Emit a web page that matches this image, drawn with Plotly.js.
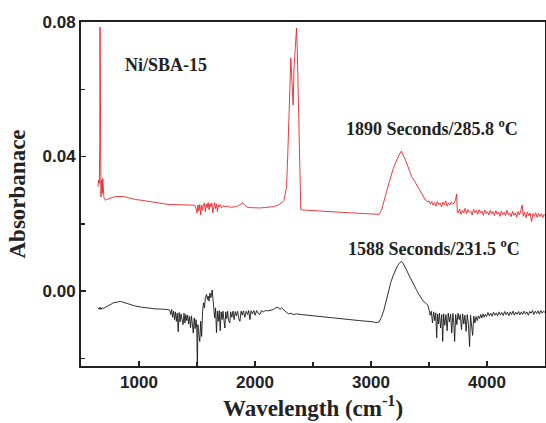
<!DOCTYPE html>
<html>
<head>
<meta charset="utf-8">
<script src="https://cdn.plot.ly/plotly-3.0.1.min.js"></script>
<style>html,body{margin:0;padding:0;background:#fff;}#chart{width:546px;height:423px;}</style>
</head>
<body>
<div id="chart"></div>
<script>
// Red spectrum: 1890 Seconds / 285.8 °C
const redX = [646,652,658,662,664,666,669,672,676,680,684,688,692,697,702,710,720,740,770,800,830,860,890,930,970,1020,1080,1140,1200,1260,1320,1380,1440,1470,
1480,1492,1500,1508,1516,1524,1532,1540,1548,1556,1564,1572,1580,1588,1596,1604,1612,1620,1628,1636,1644,1652,1660,1668,1676,1684,1692,1700,1712,1724,1740,1760,1780,1800,1830,1860,1880,1895,1910,1930,1960,2000,2040,2080,2120,2160,2200,2230,2250,2262,2272,2282,2292,2300,2309,2316,2322,2329,2336,2344,2352,2358,2364,2370,2378,2386,2395,2410,2450,2500,2600,2700,2800,2900,3000,3050,3070,3090,3110,3130,3150,3170,3190,3210,3230,3250,3262,3275,3290,3310,3330,3350,3370,3390,3410,3430,3450,3470,3490,
3500,3512,3524,3536,3548,3560,3572,3584,3596,3608,3620,3632,3644,3656,3668,3680,3692,3704,3716,3728,3738,3744,3752,3764,3776,3788,3800,3812,3824,3836,3848,3860,3872,3884,3896,3908,3920,3932,3944,3956,3968,3980,3992,4004,4016,4028,4040,4052,4064,4076,4088,4100,4112,4124,4136,4148,4160,4172,4184,4196,4208,4220,4232,4244,4256,4268,4280,4292,4304,4312,4324,4336,4348,4360,4372,4384,4396,4408,4420,4432,4444,4456,4468,4480,4492,4500];
const redY = [0.031,0.033,0.032,0.045,0.0785,0.060,0.030,0.028,0.033,0.031,0.029,0.0335,0.030,0.028,0.0275,0.027,0.0272,0.0275,0.0278,0.0281,0.0282,0.0281,0.0279,0.0275,0.0272,0.0270,0.0267,0.0264,0.0260,0.0257,0.0257,0.0256,0.0256,0.0255,
0.0255,0.0245,0.0232,0.0256,0.0238,0.0257,0.0226,0.0255,0.0240,0.0258,0.0262,0.0236,0.0259,0.0248,0.0263,0.0242,0.0260,0.0250,0.0262,0.0233,0.0258,0.0263,0.0245,0.0259,0.0236,0.0256,0.0250,0.0257,0.0248,0.0254,0.0251,0.0253,0.0250,0.0249,0.0251,0.0254,0.0259,0.0262,0.0256,0.0250,0.0248,0.0247,0.0247,0.0248,0.0249,0.0251,0.0256,0.0262,0.0270,0.0290,0.031,0.040,0.051,0.0657,0.0693,0.064,0.058,0.0553,0.066,0.072,0.0765,0.0782,0.072,0.0607,0.045,0.030,0.0242,0.0241,0.0240,0.0239,0.0237,0.0235,0.0233,0.0231,0.0229,0.0227,0.0228,0.0240,0.0262,0.0290,0.0315,0.0340,0.0362,0.0380,0.0398,0.0410,0.0416,0.0408,0.0395,0.0378,0.0358,0.0340,0.0330,0.0318,0.0305,0.0290,0.0280,0.0270,0.0265,
0.0268,0.0258,0.0266,0.0255,0.0263,0.0252,0.0266,0.0257,0.0262,0.0250,0.0264,0.0256,0.0268,0.0252,0.0262,0.0256,0.0265,0.0258,0.0262,0.0270,0.0288,0.0238,0.0232,0.0244,0.0228,0.0240,0.0232,0.0246,0.0230,0.0242,0.0234,0.0238,0.0226,0.0243,0.0233,0.0240,0.0228,0.0242,0.0232,0.0238,0.0225,0.0241,0.0230,0.0236,0.0226,0.0240,0.0229,0.0236,0.0224,0.0239,0.0228,0.0235,0.0222,0.0238,0.0227,0.0234,0.0224,0.0240,0.0226,0.0232,0.0221,0.0237,0.0225,0.0233,0.0220,0.0236,0.0226,0.0240,0.0256,0.0222,0.0234,0.0218,0.0235,0.0224,0.0232,0.0206,0.0230,0.0222,0.0233,0.0219,0.0231,0.0221,0.0230,0.0218,0.0228,0.0224];

// Black spectrum: 1588 Seconds / 231.5 °C
const blackX = [646,656,664,672,680,690,700,720,750,780,810,840,870,910,960,1020,1080,1140,1200,1250,
1266,1274,1282,1290,1298,1306,1314,1322,1330,1338,1346,1354,1362,1370,1380,1388,1396,1404,1412,1420,1428,1436,1444,1452,1460,1468,1476,1484,1492,1498,1503,1508,1516,1524,1532,1540,1548,1556,1564,1572,1582,1590,1596,1604,1611,1620,1631,1638,1645,1652,1660,1668,1676,1684,1692,1700,1708,1716,1724,1732,1740,1748,1756,1764,1772,1783,1790,1800,1810,1820,1830,1840,1850,1860,1870,1880,1890,1900,1912,1924,1936,1946,1956,1966,1978,1990,2002,2014,2026,2042,2056,2072,2090,2110,2130,2150,2170,2190,2205,2215,2230,2250,2270,2290,2310,2330,2360,2400,2500,2600,2700,2800,2900,3000,3050,3070,3090,3110,3130,3150,3170,3190,3210,3230,3250,3262,3275,3290,3310,3330,3350,3370,3390,3410,3430,3450,3470,3490,
3500,3510,3520,3530,3540,3550,3558,3566,3574,3582,3590,3600,3610,3618,3626,3636,3646,3656,3666,3676,3686,3696,3706,3714,3721,3730,3740,3750,3760,3770,3780,3790,3800,3810,3820,3830,3840,3850,3858,3866,3876,3886,3896,3906,3916,3926,3936,3946,3956,3966,3976,3986,3996,4008,4020,4032,4044,4056,4068,4080,4092,4104,4116,4128,4140,4152,4164,4176,4188,4200,4212,4224,4236,4248,4260,4272,4284,4296,4308,4320,4332,4344,4356,4368,4380,4392,4404,4416,4428,4440,4452,4464,4476,4488,4500];
const blackY = [-0.0050,-0.0054,-0.0048,-0.0055,-0.0050,-0.0052,-0.0050,-0.0047,-0.0041,-0.0035,-0.0032,-0.0031,-0.0034,-0.0039,-0.0044,-0.0048,-0.0051,-0.0053,-0.0054,-0.0055,
-0.0058,-0.0070,-0.0055,-0.0078,-0.0060,-0.0085,-0.0062,-0.0090,-0.0066,-0.0121,-0.0064,-0.0092,-0.0068,-0.0085,-0.0100,-0.0066,-0.0095,-0.0070,-0.0088,-0.0072,-0.0098,-0.0076,-0.0109,-0.0074,-0.0100,-0.0125,-0.0080,-0.0112,-0.0085,-0.0110,-0.0240,-0.0100,-0.0130,-0.0150,-0.0090,-0.0135,-0.0060,-0.0035,-0.0050,-0.0020,-0.0010,-0.0025,-0.0015,-0.0030,-0.0006,-0.0020,0.0003,-0.0030,-0.0064,-0.0080,-0.0050,-0.0124,-0.0060,-0.0090,-0.0058,-0.0118,-0.0062,-0.0085,-0.0060,-0.0095,-0.0110,-0.0062,-0.0082,-0.0060,-0.0088,-0.0095,-0.0062,-0.0078,-0.0060,-0.0085,-0.0061,-0.0074,-0.0060,-0.0082,-0.0090,-0.0060,-0.0072,-0.0059,-0.0078,-0.0060,-0.0070,-0.0058,-0.0085,-0.0059,-0.0068,-0.0058,-0.0072,-0.0058,-0.0066,-0.0070,-0.0058,-0.0062,-0.0058,-0.0059,-0.0058,-0.0056,-0.0052,-0.0048,-0.0050,-0.0055,-0.0050,-0.0058,-0.0063,-0.0068,-0.0066,-0.0070,-0.0068,-0.0070,-0.0074,-0.0078,-0.0082,-0.0085,-0.0088,-0.0091,-0.0094,-0.0092,-0.0078,-0.0058,-0.0030,0.0000,0.0025,0.0045,0.0062,0.0076,0.0085,0.0088,0.0083,0.0074,0.0060,0.0045,0.0030,0.0018,0.0005,-0.0008,-0.0020,-0.0030,-0.0036,-0.0042,
-0.0055,-0.0072,-0.0060,-0.0095,-0.0062,-0.0088,-0.0065,-0.0139,-0.0068,-0.0098,-0.0066,-0.0110,-0.0070,-0.0150,-0.0068,-0.0102,-0.0070,-0.0118,-0.0066,-0.0092,-0.0069,-0.0125,-0.0067,-0.0095,-0.0150,-0.0070,-0.0100,-0.0066,-0.0085,-0.0070,-0.0115,-0.0068,-0.0098,-0.0072,-0.0120,-0.0070,-0.0100,-0.0165,-0.0072,-0.0110,-0.0132,-0.0075,-0.0095,-0.0076,-0.0088,-0.0074,-0.0082,-0.0070,-0.0080,-0.0068,-0.0078,-0.0069,-0.0076,-0.0064,-0.0074,-0.0066,-0.0075,-0.0063,-0.0072,-0.0065,-0.0074,-0.0062,-0.0071,-0.0064,-0.0073,-0.0061,-0.0070,-0.0063,-0.0074,-0.0062,-0.0070,-0.0060,-0.0072,-0.0063,-0.0069,-0.0061,-0.0071,-0.0062,-0.0070,-0.0060,-0.0068,-0.0062,-0.0072,-0.0061,-0.0066,-0.0058,-0.0070,-0.0060,-0.0067,-0.0059,-0.0069,-0.0058,-0.0066,-0.0060,-0.0064];

const sampleLabel = "Ni/SBA-15";
const redLabel = "1890 Seconds/285.8 <sup>o</sup>C";
const blackLabel = "1588 Seconds/231.5 <sup>o</sup>C";
const xTitle = "Wavelength (cm<sup>-1</sup>)";
const yTitle = "Absorbanace";

const serif = "Liberation Serif, Times New Roman, serif";
const sans = "Liberation Sans, Arial, sans-serif";

const traces = [
  {x: redX, y: redY, mode: 'lines', line: {color: '#e8262b', width: 0.9}, hoverinfo: 'skip'},
  {x: blackX, y: blackY, mode: 'lines', line: {color: '#1a1a1a', width: 0.9}, hoverinfo: 'skip'}
];

const axisCommon = {
  showgrid: false, zeroline: false, showline: true, linecolor: '#222', linewidth: 2,
  mirror: true, ticks: 'inside', ticklen: 5, tickwidth: 1.5, tickcolor: '#222',
  tickfont: {family: sans, size: 17, color: '#222', weight: 'bold'}
};

const layout = {
  width: 546, height: 423,
  margin: {l: 81, r: 1, t: 22, b: 57},
  paper_bgcolor: '#fff', plot_bgcolor: '#fff',
  showlegend: false,
  xaxis: Object.assign({}, axisCommon, {
    range: [500, 4500], tick0: 0, dtick: 1000,
    minor: {dtick: 500, tick0: 0, ticks: 'inside', ticklen: 4, tickwidth: 1.5, tickcolor: '#222'},
    title: {text: xTitle, font: {family: serif, size: 23, color: '#222', weight: 'bold'}, standoff: 6}
  }),
  yaxis: Object.assign({}, axisCommon, {
    range: [-0.0223, 0.08], tick0: 0, dtick: 0.04, tickformat: '.2f',
    minor: {dtick: 0.02, tick0: 0, ticks: 'inside', ticklen: 4, tickwidth: 1.5, tickcolor: '#222'},
    title: {text: yTitle, font: {family: serif, size: 23, color: '#222', weight: 'bold'}, standoff: 10}
  }),
  annotations: [
    {x: 1232, y: 0.0672, xref: 'x', yref: 'y', text: sampleLabel, showarrow: false,
     font: {family: serif, size: 18, color: '#222', weight: 'bold'}},
    {x: 3523, y: 0.0485, xref: 'x', yref: 'y', text: redLabel, showarrow: false,
     font: {family: serif, size: 18, color: '#222', weight: 'bold'}},
    {x: 3540, y: 0.0128, xref: 'x', yref: 'y', text: blackLabel, showarrow: false,
     font: {family: serif, size: 18, color: '#222', weight: 'bold'}}
  ]
};

Plotly.newPlot('chart', traces, layout, {staticPlot: true, displayModeBar: false});
</script>
</body>
</html>
